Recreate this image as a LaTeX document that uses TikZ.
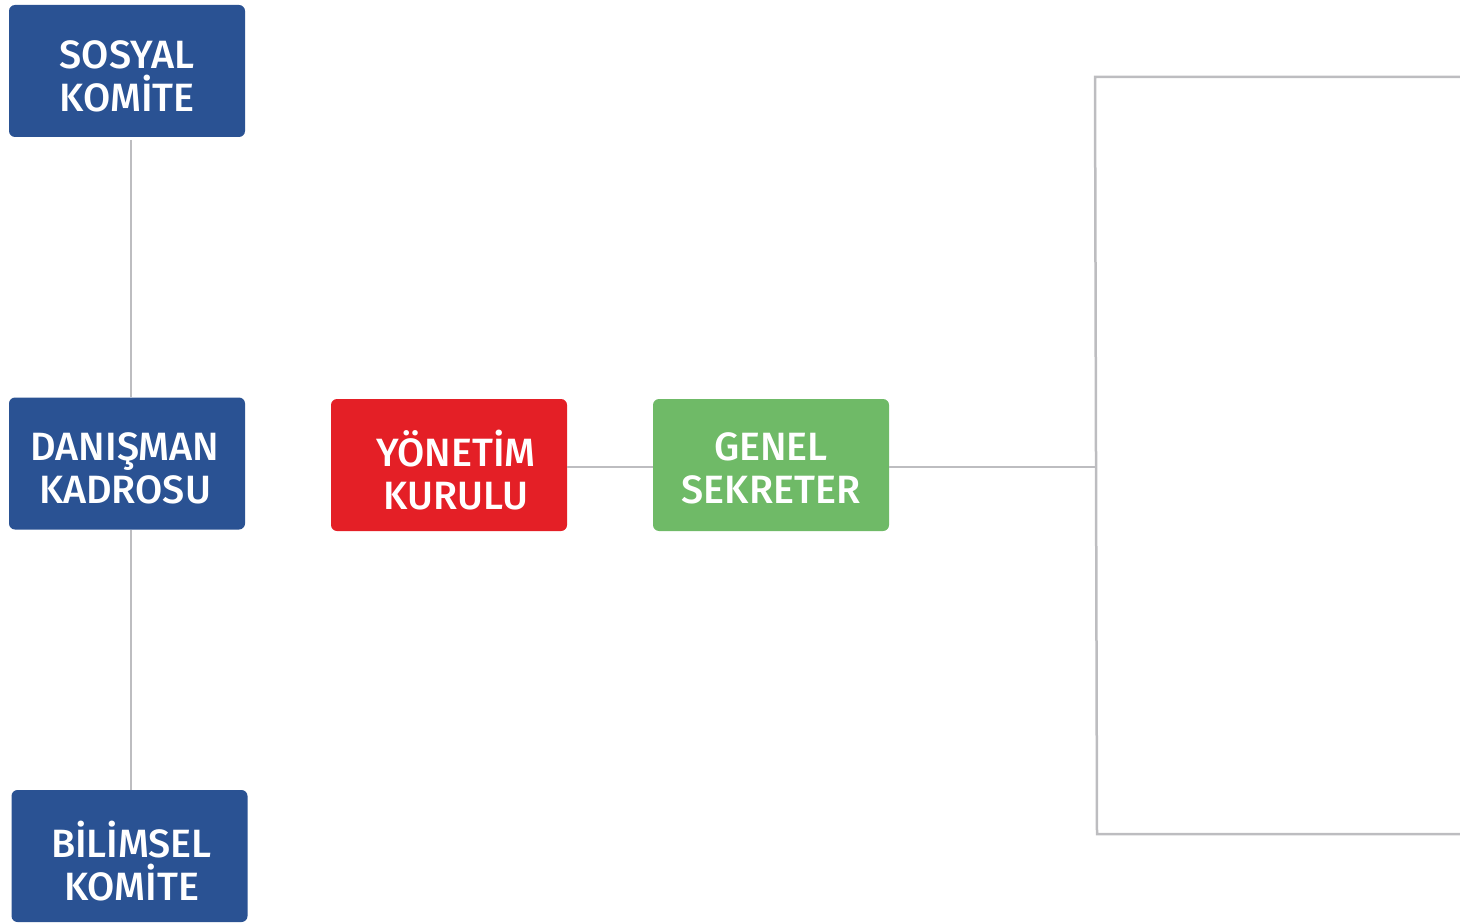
\documentclass[tikz,border=0pt]{standalone}
\usepackage{fontspec}
\setmainfont{Fira Sans Medium}
\definecolor{cblue}{HTML}{2A5293}
\definecolor{cred}{HTML}{E41F26}
\definecolor{cgreen}{HTML}{6FBA67}
\definecolor{cline}{HTML}{BDBDC0}
\begin{document}
\begin{tikzpicture}[x=1pt,y=-1pt,
  box/.style={draw=none,rounded corners=6pt,minimum width=236pt,minimum height=132pt,inner sep=0pt},
  lab/.style={text=white,align=center,font=\fontsize{39.5}{43}\selectfont,yshift=-5pt},
  conn/.style={draw=cline,line width=2.5pt}]
\useasboundingbox (0,0) rectangle (1460,923);
\node[box,fill=cblue,label={[lab]center:SOSYAL\\KOMİTE}] (sos) at (127,71) {};
\node[box,fill=cblue,label={[lab,xshift=-2pt]center:DANIŞMAN\\KADROSU}] (dan) at (127,463.5) {};
\node[box,fill=cblue,label={[lab,xshift=2pt]center:BİLİMSEL\\KOMİTE}] (bil) at (129.5,856) {};
\node[box,fill=cred,label={[lab,xshift=7pt]center:YÖNETİM\\KURULU}] (yon) at (449,465) {};
\node[box,fill=cgreen,label={[lab,yshift=2pt]center:GENEL\\SEKRETER}] (gen) at (771,465) {};
\coordinate (t1) at (131,140);
\coordinate (d1) at (131,397);
\coordinate (d2) at (131,530);
\coordinate (b1) at (131,790);
\draw[conn] (t1) -- (d1);
\draw[conn] (d2) -- (b1);
\draw[conn] (yon.east |- 0,467) -- (gen.west |- 0,467);
\coordinate (bt) at (1095,77);
\coordinate (bb) at (1097,834);
\draw[conn] (gen.east |- 0,467) -- (1096,467);
\draw[conn] (1460,77) -- (bt) -- (bb) -- (1460,834);
\end{tikzpicture}
\end{document}
